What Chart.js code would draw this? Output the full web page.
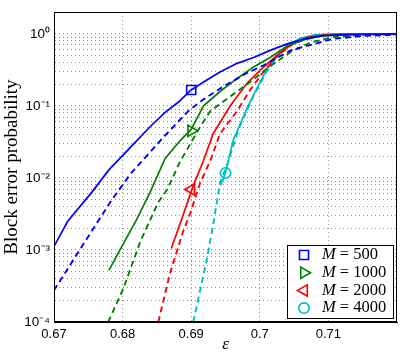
<!DOCTYPE html>
<html>
<head>
<meta charset="utf-8">
<script src="https://cdn.jsdelivr.net/npm/chart.js@4.4.1/dist/chart.umd.min.js"></script>
<style>
  html, body { margin: 0; padding: 0; background: #fff; }
  #wrap { width: 415px; height: 355px; }
</style>
</head>
<body>
<div id="wrap"><canvas id="myChart" width="415" height="355"></canvas></div>
<script>
// epsilon values and block error probabilities
const eps500 = [0.67, 0.672, 0.6755, 0.678, 0.681, 0.684, 0.6862, 0.6881, 0.69, 0.6918, 0.6942, 0.6967, 0.6991, 0.7015, 0.704, 0.7065, 0.709, 0.7115, 0.715, 0.72];
const pe500 = [1.12e-3, 2.5e-3, 6.3e-3, 0.0129, 0.0257, 0.0513, 0.0813, 0.112, 0.166, 0.214, 0.295, 0.389, 0.468, 0.589, 0.724, 0.851, 0.933, 0.966, 0.977, 0.989];
const eps500d = [0.67, 0.6742, 0.6782, 0.6811, 0.6855, 0.6896, 0.6918, 0.6947, 0.6982, 0.7005, 0.7045, 0.7107, 0.715, 0.72];
const pe500d = [2.75e-4, 1.17e-3, 4.6e-3, 0.0112, 0.033, 0.085, 0.123, 0.186, 0.288, 0.363, 0.59, 0.851, 0.933, 0.977];

const eps1000 = [0.678, 0.6799, 0.6821, 0.684, 0.6862, 0.6884, 0.69, 0.6918, 0.6942, 0.6967, 0.6991, 0.7015, 0.704, 0.7065, 0.709, 0.712, 0.72];
const pe1000 = [5.2e-4, 1.12e-3, 2.7e-3, 6.3e-3, 0.0186, 0.033, 0.047, 0.1, 0.158, 0.24, 0.347, 0.468, 0.676, 0.83, 0.933, 0.977, 0.993];
const eps1000d = [0.6779, 0.6801, 0.6826, 0.6852, 0.6865, 0.6884, 0.6899, 0.6913, 0.6928, 0.6957, 0.6986, 0.7011, 0.7045, 0.7074, 0.711, 0.715, 0.72];
const pe1000d = [1e-4, 2.9e-4, 1.32e-3, 4.6e-3, 6.9e-3, 0.017, 0.030, 0.051, 0.085, 0.135, 0.214, 0.331, 0.56, 0.76, 0.91, 0.966, 0.989];

const eps2000 = [0.6871, 0.6888, 0.6903, 0.6918, 0.6932, 0.6957, 0.6982, 0.7001, 0.702, 0.7045, 0.707, 0.7095, 0.713, 0.72];
const pe2000 = [1.05e-3, 3.0e-3, 7.8e-3, 0.0174, 0.041, 0.1, 0.209, 0.316, 0.457, 0.708, 0.891, 0.966, 0.989, 1.0];
const eps2000d = [0.6852, 0.6869, 0.6888, 0.6899, 0.6913, 0.6928, 0.6942, 0.6967, 0.6986, 0.7005, 0.7026, 0.705, 0.7075, 0.71, 0.714, 0.72];
const pe2000d = [1e-4, 4.7e-4, 1.78e-3, 3.3e-3, 8.5e-3, 0.0174, 0.041, 0.085, 0.166, 0.295, 0.5, 0.741, 0.891, 0.966, 0.989, 1.0];

const eps4000 = [0.6943, 0.695, 0.6961, 0.6982, 0.6996, 0.7011, 0.7026, 0.704, 0.706, 0.708, 0.711, 0.72];
const pe4000 = [7.9e-3, 0.0117, 0.033, 0.095, 0.178, 0.331, 0.5, 0.692, 0.871, 0.966, 0.991, 1.0];
const eps4000d = [0.6903, 0.6913, 0.6923, 0.6932, 0.6942, 0.6953, 0.697, 0.699, 0.701, 0.703, 0.705, 0.7075, 0.711, 0.72];
const pe4000d = [1e-4, 2.75e-4, 7.6e-4, 2.24e-3, 8.5e-3, 0.0158, 0.05, 0.132, 0.30, 0.537, 0.776, 0.933, 0.989, 1.0];

// one marker per M
const legendLabels = ['500', '1000', '2000', '4000'];
const markerEps = [0.69, 0.69, 0.69, 0.695];
const markerPe = [0.166, 0.045, 0.0069, 0.0117];

const xTicks = [0.67, 0.68, 0.69, 0.70, 0.71];
const yTicks = [];
for (let e = -4; e <= 0; e++) {
    for (let m = 1; m <= 9; m++) {
        if (e === 0 && m > 1) break;
        yTicks.push(Number((m * Math.pow(10, e)).toPrecision(2)));
    }
}

const colors = ['#0000ff', '#008000', '#ff0000', '#00bfbf'];
const styles = ['rect', 'triangle', 'triangle', 'circle'];
const rotations = [0, 90, -90, 0];
const radii = [6.4, 6.5, 6.5, 5.2];

const pts = (xs, ys) => xs.map((x, i) => ({ x: x, y: ys[i] }));

const curves = [
    [eps500, pe500, eps500d, pe500d],
    [eps1000, pe1000, eps1000d, pe1000d],
    [eps2000, pe2000, eps2000d, pe2000d],
    [eps4000, pe4000, eps4000d, pe4000d]
];

const datasets = [];
curves.forEach((c, i) => {
    datasets.push({
        label: 'M = ' + legendLabels[i] + ' (solid)',
        data: pts(c[0], c[1]),
        borderColor: colors[i],
        borderWidth: 1.7,
        pointRadius: 0,
        tension: 0,
        fill: false
    });
    datasets.push({
        label: 'M = ' + legendLabels[i] + ' (dashed)',
        data: pts(c[2], c[3]),
        borderColor: colors[i],
        borderWidth: 1.9,
        borderDash: [6, 4],
        pointRadius: 0,
        tension: 0,
        fill: false
    });
});
const firstMarker = datasets.length;
legendLabels.forEach((lab, i) => {
    datasets.push({
        label: 'M = ' + lab,
        data: [{ x: markerEps[i], y: markerPe[i] }],
        showLine: false,
        borderColor: colors[i],
        backgroundColor: 'rgba(0,0,0,0)',
        borderWidth: 1.6,
        pointStyle: styles[i],
        pointRotation: rotations[i],
        pointRadius: radii[i]
    });
});

const supMap = { '0': '\u2070', '1': '\u00b9', '2': '\u00b2', '3': '\u00b3', '4': '\u2074', '-': '\u207b' };
const sup = s => String(s).split('').map(c => supMap[c]).join('');

// frame round the axes and the legend inside the plot
const framePlugin = {
    id: 'framePlugin',
    afterDraw(chart) {
        const ctx = chart.ctx;
        const a = chart.chartArea;
        ctx.save();
        ctx.strokeStyle = '#000';
        ctx.lineWidth = 1;
        ctx.strokeRect(Math.round(a.left) + 0.5, Math.round(a.top) + 0.5,
            Math.round(a.right - a.left) - 1, Math.round(a.bottom - a.top) - 1);

        const w = 106, h = 73;
        const x0 = Math.round(a.right) - 4 - w;
        const y0 = Math.round(a.bottom) - 4 - h;
        ctx.fillStyle = '#fff';
        ctx.fillRect(x0, y0, w, h);
        ctx.strokeRect(x0 + 0.5, y0 + 0.5, w, h);
        ctx.textBaseline = 'middle';
        ctx.textAlign = 'left';
        legendLabels.forEach((lab, i) => {
            const ds = chart.data.datasets[firstMarker + i];
            const y = y0 + 10 + i * 17.7;
            ctx.strokeStyle = ds.borderColor;
            ctx.fillStyle = 'rgba(0,0,0,0)';
            ctx.lineWidth = 1.6;
            Chart.helpers.drawPoint(ctx, {
                pointStyle: ds.pointStyle,
                rotation: ds.pointRotation,
                radius: ds.pointRadius,
                borderWidth: 1.6
            }, x0 + 17, y);
            ctx.fillStyle = '#000';
            ctx.font = 'italic 16.5px "Liberation Serif"';
            ctx.fillText('M', x0 + 35, y);
            const mw = ctx.measureText('M').width;
            ctx.font = '16.5px "Liberation Serif"';
            ctx.fillText(' = ' + lab, x0 + 35 + mw, y);
        });
        ctx.restore();
    }
};

const ctx = document.getElementById('myChart').getContext('2d');
new Chart(ctx, {
    type: 'line',
    data: { datasets: datasets },
    plugins: [framePlugin],
    options: {
        responsive: false,
        animation: false,
        layout: { padding: { top: 6, right: 18, left: 0, bottom: 0 } },
        plugins: {
            legend: { display: false },
            tooltip: { enabled: false }
        },
        scales: {
            x: {
                type: 'linear',
                min: 0.67,
                max: 0.72,
                afterBuildTicks: scale => { scale.ticks = xTicks.map(v => ({ value: v })); },
                afterFit: scale => { scale.height = 33; },
                ticks: {
                    autoSkip: false,
                    maxRotation: 0,
                    padding: 5,
                    color: '#000',
                    font: { family: '"Liberation Sans"', size: 13 },
                    callback: v => String(Number(v.toFixed(2)))
                },
                grid: { color: 'rgba(0,0,0,0.45)', lineWidth: 1, drawTicks: false },
                border: { display: true, color: '#000', dash: [1, 3] },
                title: {
                    display: true,
                    text: '\u03b5',
                    color: '#000',
                    padding: { top: 0, bottom: 0 },
                    font: { family: '"Liberation Serif"', size: 17, style: 'italic' }
                }
            },
            y: {
                type: 'logarithmic',
                min: 1e-4,
                max: 2,
                afterBuildTicks: scale => { scale.ticks = yTicks.map(v => ({ value: v })); },
                afterFit: scale => { scale.width = 54; },
                ticks: {
                    autoSkip: false,
                    padding: 4,
                    color: '#000',
                    font: { family: '"Liberation Sans"', size: 13.5 },
                    callback: v => {
                        const e = Math.log10(v);
                        if (Math.abs(e - Math.round(e)) > 1e-6) return '';
                        return '10' + sup(Math.round(e));
                    }
                },
                grid: { color: 'rgba(0,0,0,0.45)', lineWidth: 1, drawTicks: false },
                border: { display: true, color: '#000', dash: [1, 3] },
                title: {
                    display: true,
                    text: 'Block error probability',
                    color: '#000',
                    padding: { top: 1, bottom: 0 },
                    font: { family: '"Liberation Serif"', size: 19 }
                }
            }
        }
    }
});
</script>
</body>
</html>
